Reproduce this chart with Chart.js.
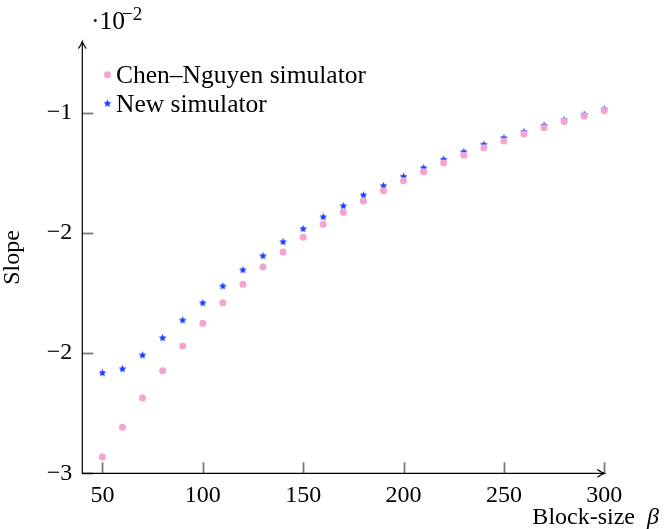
<!DOCTYPE html>
<html>
<head>
<meta charset="utf-8">
<script src="https://cdn.jsdelivr.net/npm/chart.js@4/dist/chart.umd.min.js"></script>
<style>
html,body{margin:0;padding:0;background:#fff;}
#wrap{width:671px;height:529px;position:relative;}
</style>
</head>
<body>
<div id="wrap"><canvas id="c" width="671" height="529"></canvas></div>
<script>
// Data (slope values in units of 10^-2)
const blockSizes = [50,60,70,80,90,100,110,120,130,140,150,160,170,180,190,200,210,220,230,240,250,260,270,280,290,300];
const chenNguyen = [-2.910,-2.745,-2.582,-2.431,-2.294,-2.168,-2.054,-1.952,-1.856,-1.773,-1.691,-1.619,-1.552,-1.490,-1.433,-1.377,-1.327,-1.279,-1.236,-1.194,-1.157,-1.118,-1.083,-1.048,-1.018,-0.989];
const newSimulator = [-2.442,-2.420,-2.344,-2.248,-2.150,-2.054,-1.961,-1.871,-1.793,-1.715,-1.643,-1.577,-1.516,-1.456,-1.405,-1.353,-1.305,-1.258,-1.216,-1.175,-1.139,-1.105,-1.070,-1.039,-1.009,-0.979];
const seriesNames = ['Chen\u2013Nguyen simulator', 'New simulator'];
const xTickValues = [50,100,150,200,250,300];
const yTickValues = [-3,-2.3333,-1.6667,-1];
const xTitle = 'Block-size \u03B2';
const yTitle = 'Slope';

const FONT = "'Liberation Serif', 'DejaVu Serif', serif";
const PINK = '#f5a3cf';
const BLUE = '#1c3cff';

// star marker
function makeStar(color){
  const cv = document.createElement('canvas');
  cv.width = 9; cv.height = 9;
  const g = cv.getContext('2d');
  g.fillStyle = color;
  g.beginPath();
  for(let i=0;i<10;i++){
    const r = (i%2===0) ? 4.0 : 1.9;
    const a = -Math.PI/2 + i*Math.PI/5;
    const px = 4.5 + r*Math.cos(a), py = 4.8 + r*Math.sin(a);
    if(i===0) g.moveTo(px,py); else g.lineTo(px,py);
  }
  g.closePath(); g.fill();
  return cv;
}
const starImg = makeStar(BLUE);

const AREA = {left:82.3, right:604.3, top:41.7, bottom:473.3};

const decorPlugin = {
  id:'decor',
  afterDraw(chart){
    const ctx = chart.ctx;
    const xs = chart.scales.x, ys = chart.scales.y;
    const ca = chart.chartArea;
    ctx.save();
    // inward tick marks
    ctx.strokeStyle = '#7a7a7a';
    ctx.lineWidth = 1.8;
    ctx.lineCap = 'butt';
    xTickValues.forEach(function(v){
      const px = Math.round(xs.getPixelForValue(v)) + 0.5;
      ctx.beginPath(); ctx.moveTo(px, ca.bottom); ctx.lineTo(px, ca.bottom - 11); ctx.stroke();
    });
    yTickValues.forEach(function(v){
      const py = Math.round(ys.getPixelForValue(v)) + 0.5;
      ctx.beginPath(); ctx.moveTo(ca.left, py); ctx.lineTo(ca.left + 11, py); ctx.stroke();
    });
    // axis lines
    ctx.strokeStyle = '#000';
    ctx.lineWidth = 1.2;
    ctx.beginPath(); ctx.moveTo(ca.left, ca.top); ctx.lineTo(ca.left, ca.bottom); ctx.lineTo(ca.right, ca.bottom); ctx.stroke();
    // arrows
    ctx.lineCap = 'round';
    ctx.beginPath();
    ctx.moveTo(ca.left-3.6, ca.top+6.5);
    ctx.quadraticCurveTo(ca.left-0.5, ca.top+2, ca.left, ca.top);
    ctx.quadraticCurveTo(ca.left+0.5, ca.top+2, ca.left+3.6, ca.top+6.5);
    ctx.stroke();
    ctx.beginPath();
    ctx.moveTo(ca.right-6.5, ca.bottom-3.6);
    ctx.quadraticCurveTo(ca.right-2, ca.bottom-0.5, ca.right, ca.bottom);
    ctx.quadraticCurveTo(ca.right-2, ca.bottom+0.5, ca.right-6.5, ca.bottom+3.6);
    ctx.stroke();

    // legend
    ctx.textBaseline = 'middle';
    ctx.textAlign = 'left';
    ctx.fillStyle = PINK;
    ctx.beginPath(); ctx.arc(107.5, 74.7, 3.5, 0, Math.PI*2); ctx.fill();
    ctx.drawImage(starImg, 107.5-4.5, 103.5-4.8);
    ctx.fillStyle = '#000';
    ctx.font = "25.5px " + FONT;
    ctx.fillText(seriesNames[0], 116, 76);
    ctx.fillText(seriesNames[1], 116, 105);

    // x title
    ctx.textAlign = 'right';
    ctx.textBaseline = 'alphabetic';
    ctx.font = "24px " + FONT;
    ctx.fillText('Block-size ', 641, 524);
    ctx.font = "italic 24px " + FONT;
    ctx.fillText('\u03B2', 659, 524);

    // multiplier
    ctx.textAlign = 'left';
    ctx.font = "25.5px " + FONT;
    ctx.fillText('\u00B710', 91, 29);
    ctx.font = "19px " + FONT;
    ctx.fillText('\u22122', 122, 20);
    ctx.restore();
  }
};

const fmt = v => {
  const r = Math.round(v);
  return (r < 0 ? '\u2212' : '') + Math.abs(r);
};

new Chart(document.getElementById('c'), {
  type:'scatter',
  data:{
    datasets:[
      {label:seriesNames[0], data:blockSizes.map((x,i)=>({x, y:chenNguyen[i]})),
       pointStyle:'circle', pointRadius:3.5, pointBackgroundColor:PINK, pointBorderWidth:0, borderColor:PINK, clip:false},
      {label:seriesNames[1], data:blockSizes.map((x,i)=>({x, y:newSimulator[i]})),
       pointStyle:starImg, pointRadius:5, pointBackgroundColor:BLUE, borderColor:BLUE, clip:false}
    ]
  },
  options:{
    responsive:false,
    animation:false,
    devicePixelRatio:1,
    layout:{padding:{top:AREA.top, right:671-AREA.right, left:0, bottom:0}},
    plugins:{legend:{display:false}, tooltip:{enabled:false}},
    scales:{
      x:{
        type:'linear', min:40, max:300,
        afterBuildTicks(s){ s.ticks = xTickValues.map(v=>({value:v})); },
        afterFit(s){ s.height = 529 - AREA.bottom; },
        grid:{display:false, drawTicks:false},
        border:{display:false},
        ticks:{padding:8, color:'#000', font:{family:FONT, size:24}, maxRotation:0, autoSkip:false, callback:v=>String(v)}
      },
      y:{
        type:'linear', min:-3, max:-0.606,
        afterBuildTicks(s){ s.ticks = yTickValues.map(v=>({value:v})); },
        afterFit(s){ s.width = AREA.left; },
        grid:{display:false, drawTicks:false},
        border:{display:false},
        ticks:{padding:10, color:'#000', font:{family:FONT, size:24}, autoSkip:false, callback:fmt},
        title:{display:true, text:yTitle, color:'#000', font:{family:FONT, size:24, lineHeight:1}, padding:{top:1, bottom:0}}
      }
    }
  },
  plugins:[decorPlugin]
});
</script>
</body>
</html>
